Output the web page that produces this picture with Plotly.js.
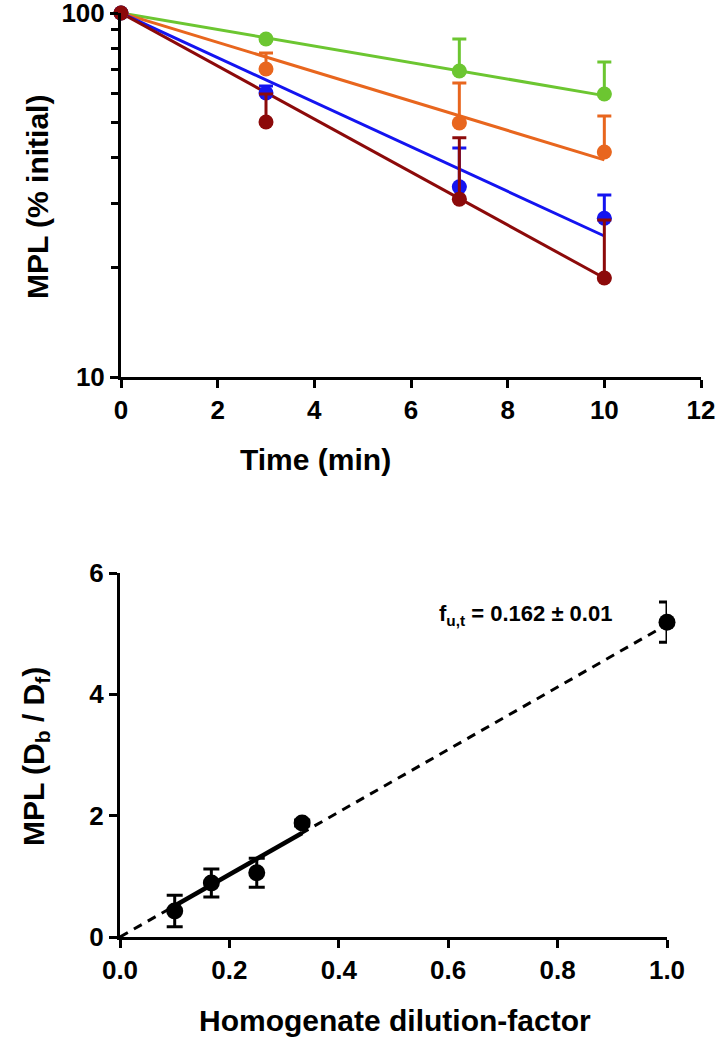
<!DOCTYPE html>
<html><head><meta charset="utf-8">
<script src="https://cdn.plot.ly/plotly-3.0.1.min.js"></script>
<style>html,body{margin:0;padding:0;background:#fff}#chart{width:721px;height:1042px}</style>
</head><body><div id="chart"></div>
<script>
// ---- Top panel data: MPL (% initial) vs time ----
const timeMin = [0, 3, 7, 10];
const fitTime = [0, 10];
const greenMPL = [100, 84.8, 69.3, 59.9];
const greenErr = [0, 0, 15.5, 13.4];
const greenFit = [100, 59.3];
const orangeMPL = [100, 70.2, 49.9, 41.5];
const orangeErr = [0, 7.4, 14.3, 10.6];
const orangeFit = [100, 39.5];
const blueMPL = [100, 60.3, 33.3, 27.3];
const blueErr = [0, 2.7, 9.3, 4.3];
const blueFit = [100, 24.4];
const redMPL = [100, 50.2, 30.8, 18.7];
const redErr = [0, 9.7, 14.6, 8.3];
const redFit = [100, 18.7];
const topXTicks = [0, 2, 4, 6, 8, 10, 12];
const topYTicks = [10, 100];
const topYMinorTicks = [20, 30, 40, 50, 60, 70, 80, 90];

// ---- Bottom panel data: MPL (Db/Df) vs dilution factor ----
const dilution = [0.1, 0.167, 0.25, 0.333, 1.0];
const mplRatio = [0.43, 0.89, 1.06, 1.88, 5.19];
const mplRatioErr = [0.26, 0.23, 0.24, 0.05, 0.33];
const dashFitX = [0, 1.0];
const dashFitY = [0, 5.15];
const solidFitX = [0.1, 0.333];
const solidFitY = [0.515, 1.715];
const botXTicks = [0, 0.2, 0.4, 0.6, 0.8, 1.0];
const botYTicks = [0, 2, 4, 6];

const W = 721, H = 1042;
const FONT = 'Liberation Sans, Arial, Helvetica, sans-serif';
const px = v => v / W;
const py = v => 1 - v / H;

const colors = {green: '#6CC631', orange: '#E8661E', blue: '#1414F0', red: '#8C0A0A'};
const series = [
  {name: 'green', y: greenMPL, e: greenErr, f: greenFit, c: colors.green},
  {name: 'orange', y: orangeMPL, e: orangeErr, f: orangeFit, c: colors.orange},
  {name: 'blue', y: blueMPL, e: blueErr, f: blueFit, c: colors.blue},
  {name: 'red', y: redMPL, e: redErr, f: redFit, c: colors.red}
];

const traces = [];
series.forEach(s => {
  traces.push({x: fitTime, y: s.f, mode: 'lines', line: {color: s.c, width: 3},
    xaxis: 'x', yaxis: 'y', hoverinfo: 'skip', cliponaxis: false});
});
series.forEach(s => {
  traces.push({x: timeMin, y: s.y, mode: 'markers', marker: {color: s.c, size: 15},
    error_y: {type: 'data', array: s.e, arrayminus: s.e.map(() => 0), symmetric: false,
      color: s.c, thickness: 3, width: 7},
    xaxis: 'x', yaxis: 'y', cliponaxis: false});
});

traces.push({x: dashFitX, y: dashFitY, mode: 'lines', line: {color: '#000', width: 3, dash: '9px,7px'},
  xaxis: 'x2', yaxis: 'y2', cliponaxis: false});
traces.push({x: solidFitX, y: solidFitY, mode: 'lines', line: {color: '#000', width: 4.5},
  xaxis: 'x2', yaxis: 'y2', cliponaxis: false});
traces.push({x: dilution, y: mplRatio, mode: 'markers', marker: {color: '#000', size: 17},
  error_y: {type: 'data', array: mplRatioErr, color: '#000', thickness: 3, width: 8},
  xaxis: 'x2', yaxis: 'y2', cliponaxis: false});

const tickFont = {family: FONT, size: 26, color: '#000', weight: 'bold'};
const titleFont = {family: FONT, size: 30, color: '#000', weight: 'bold'};
const axBase = {showgrid: false, zeroline: false, showline: true, linecolor: '#000', linewidth: 3,
  ticks: 'outside', ticklen: 8, tickwidth: 3, tickcolor: '#000', tickfont: tickFont,
  ticklabeloverflow: 'allow', fixedrange: true};

const layout = {
  width: W, height: H, margin: {l: 0, r: 0, t: 0, b: 0},
  paper_bgcolor: '#fff', plot_bgcolor: '#fff', showlegend: false,
  xaxis: Object.assign({}, axBase, {domain: [px(121), px(701)], range: [0, 12],
    tickvals: topXTicks, anchor: 'y'}),
  yaxis: Object.assign({}, axBase, {domain: [py(377), py(13)], type: 'log', range: [1, 2],
    tickvals: topYTicks, anchor: 'x',
    minor: {tickvals: topYMinorTicks, ticks: 'outside', ticklen: 7, tickwidth: 3, tickcolor: '#000', showgrid: false}}),
  xaxis2: Object.assign({}, axBase, {domain: [px(120), px(667)], range: [0, 1],
    tickvals: botXTicks, tickformat: '.1f', anchor: 'y2'}),
  yaxis2: Object.assign({}, axBase, {domain: [py(937), py(573)], range: [0, 6],
    tickvals: botYTicks, anchor: 'x2'}),
  annotations: [
    {text: 'MPL (% initial)', xref: 'paper', yref: 'paper', x: px(37), y: py(197),
      xanchor: 'center', yanchor: 'middle', textangle: -90, showarrow: false, font: titleFont},
    {text: 'Time (min)', xref: 'paper', yref: 'paper', x: px(315), y: py(459),
      xanchor: 'center', yanchor: 'middle', showarrow: false, font: titleFont},
    {text: 'MPL (D<sub>b</sub> / D<sub>f</sub>)', xref: 'paper', yref: 'paper', x: px(35), y: py(757),
      xanchor: 'center', yanchor: 'middle', textangle: -90, showarrow: false, font: titleFont},
    {text: 'Homogenate dilution-factor', xref: 'paper', yref: 'paper', x: px(395), y: py(1020),
      xanchor: 'center', yanchor: 'middle', showarrow: false, font: titleFont},
    {text: 'f<sub>u,t</sub> = 0.162 ± 0.01', xref: 'paper', yref: 'paper', x: px(437), y: py(615),
      xanchor: 'left', yanchor: 'middle', showarrow: false,
      font: {family: FONT, size: 22, color: '#000', weight: 'bold'}}
  ]
};

Plotly.newPlot('chart', traces, layout, {staticPlot: true, displayModeBar: false});
</script>
</body></html>
